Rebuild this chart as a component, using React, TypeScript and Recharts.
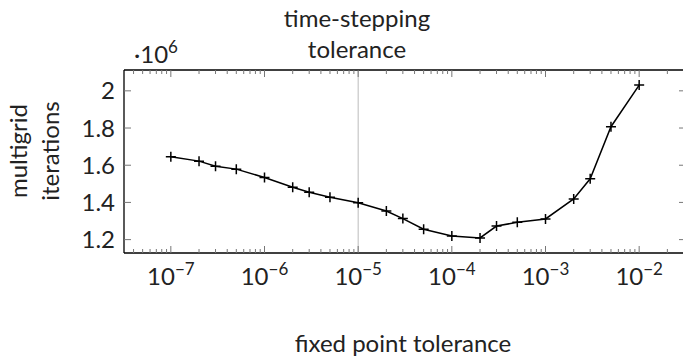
import React from 'react';
import { LineChart, Line, XAxis, YAxis, ReferenceLine } from 'recharts';

// fixed point tolerance values (x) and multigrid iterations in units of 10^6 (y)
const tolerances = [1e-7, 2e-7, 3e-7, 5e-7, 1e-6, 2e-6, 3e-6, 5e-6, 1e-5, 2e-5, 3e-5, 5e-5, 1e-4, 2e-4, 3e-4, 5e-4, 1e-3, 2e-3, 3e-3, 5e-3, 1e-2];
const iterations = [1.646, 1.622, 1.595, 1.579, 1.534, 1.482, 1.455, 1.428, 1.398, 1.354, 1.313, 1.256, 1.22, 1.209, 1.273, 1.293, 1.311, 1.419, 1.527, 1.807, 2.031];

const majorExponents = [-7, -6, -5, -4, -3, -2];
const yTicks = [1.2, 1.4, 1.6, 1.8, 2.0];

const data = tolerances.map((tol, i) => ({ tol, it: iterations[i] }));

const xDomain = [Math.pow(10, -7.5), Math.pow(10, -1.5)];
const yDomain = [1.128, 2.112];

// major + minor log ticks inside the domain
const xTicks: number[] = [];
for (let e = -8; e <= -2; e++) {
  for (let m = 1; m <= 9; m++) {
    const v = m * Math.pow(10, e);
    if (v >= xDomain[0] && v <= xDomain[1]) xTicks.push(v);
  }
}

const isMajor = (v: number) => majorExponents.some((e) => Math.abs(v / Math.pow(10, e) - 1) < 1e-6);
const expOf = (v: number) => Math.round(Math.log10(v));

const font = 'Lato, "DejaVu Sans", sans-serif';
const tickColor = '#777';

const BottomTick = (props: any) => {
  const { x, y, payload } = props;
  const major = isMajor(payload.value);
  return (
    <g>
      <line x1={x} x2={x} y1={y} y2={y - (major ? 7 : 4)} stroke={tickColor} strokeWidth={1} />
      {major && (
        <text x={x} y={y + 32} textAnchor="middle" fontFamily={font} fontSize={24} fill="#222">
          <tspan>10</tspan>
          <tspan dy={-10} fontSize={17}>{'\u2212' + Math.abs(expOf(payload.value))}</tspan>
        </text>
      )}
    </g>
  );
};

const TopTick = (props: any) => {
  const { x, y, payload } = props;
  const major = isMajor(payload.value);
  return <line x1={x} x2={x} y1={y} y2={y + (major ? 7 : 4)} stroke={tickColor} strokeWidth={1} />;
};

const LeftTick = (props: any) => {
  const { x, y, payload } = props;
  return (
    <g>
      <line x1={x} x2={x + 7} y1={y} y2={y} stroke={tickColor} strokeWidth={1} />
      <text x={x - 9} y={y} dy="0.36em" textAnchor="end" fontFamily={font} fontSize={24} fill="#222">
        {Number(payload.value.toFixed(1)).toString()}
      </text>
    </g>
  );
};

const RightTick = (props: any) => {
  const { x, y } = props;
  return <line x1={x} x2={x - 7} y1={y} y2={y} stroke={tickColor} strokeWidth={1} />;
};

const PlusDot = (props: any) => {
  const { cx, cy } = props;
  if (cx == null || cy == null) return null;
  return (
    <path d={`M${cx - 5},${cy}H${cx + 5}M${cx},${cy - 5}V${cy + 5}`} stroke="#000" strokeWidth={1.5} fill="none" />
  );
};

const axisCommon = {
  tickSize: 0,
  tickMargin: 0,
  tickLine: false,
  interval: 0 as const,
  allowDataOverflow: true,
  axisLine: { stroke: '#000', strokeWidth: 1.3 },
};

export default function App() {
  return (
    <div style={{ position: 'absolute', left: 0, top: 0, width: 683, height: 356, overflow: 'hidden', background: '#fff' }}>
      <LineChart width={700} height={356} data={data} margin={{ top: 69, right: 13, bottom: 102, left: 123 }}>
        <XAxis
          {...axisCommon}
          dataKey="tol"
          type="number"
          scale="log"
          domain={xDomain}
          ticks={xTicks}
          height={1}
          tick={(p: any) => <BottomTick {...p} />}
        />
        <XAxis
          {...axisCommon}
          xAxisId="top"
          orientation="top"
          dataKey="tol"
          type="number"
          scale="log"
          domain={xDomain}
          ticks={xTicks}
          height={1}
          tick={(p: any) => <TopTick {...p} />}
        />
        <YAxis
          {...axisCommon}
          type="number"
          domain={yDomain}
          ticks={yTicks}
          width={1}
          tick={(p: any) => <LeftTick {...p} />}
        />
        <YAxis
          {...axisCommon}
          yAxisId="right"
          orientation="right"
          type="number"
          domain={yDomain}
          ticks={yTicks}
          width={1}
          tick={(p: any) => <RightTick {...p} />}
        />
        <ReferenceLine x={1e-5} stroke="#bbb" strokeWidth={1} />
        <Line
          dataKey="it"
          stroke="#000"
          strokeWidth={1.5}
          dot={(p: any) => <PlusDot key={p.index} {...p} />}
          activeDot={false}
          isAnimationActive={false}
        />
      </LineChart>
      <svg width={683} height={356} style={{ position: 'absolute', left: 0, top: 0, pointerEvents: 'none' }}>
        <text x={357} y={27} textAnchor="middle" fontFamily={font} fontSize={24} fill="#222">time-stepping</text>
        <text x={357} y={58} textAnchor="middle" fontFamily={font} fontSize={24} fill="#222">tolerance</text>
        <text x={134} y={63} fontFamily={font} fontSize={24} fill="#222">
          <tspan>{'\u00b710'}</tspan>
          <tspan dy={-10} fontSize={17}>6</tspan>
        </text>
        <text x={27} y={151} transform="rotate(-90 27 151)" textAnchor="middle" fontFamily={font} fontSize={24} fill="#222">multigrid</text>
        <text x={59} y={151} transform="rotate(-90 59 151)" textAnchor="middle" fontFamily={font} fontSize={24} fill="#222">iterations</text>
        <text x={403} y={352} textAnchor="middle" fontFamily={font} fontSize={24} fill="#222">fixed point tolerance</text>
      </svg>
    </div>
  );
}
